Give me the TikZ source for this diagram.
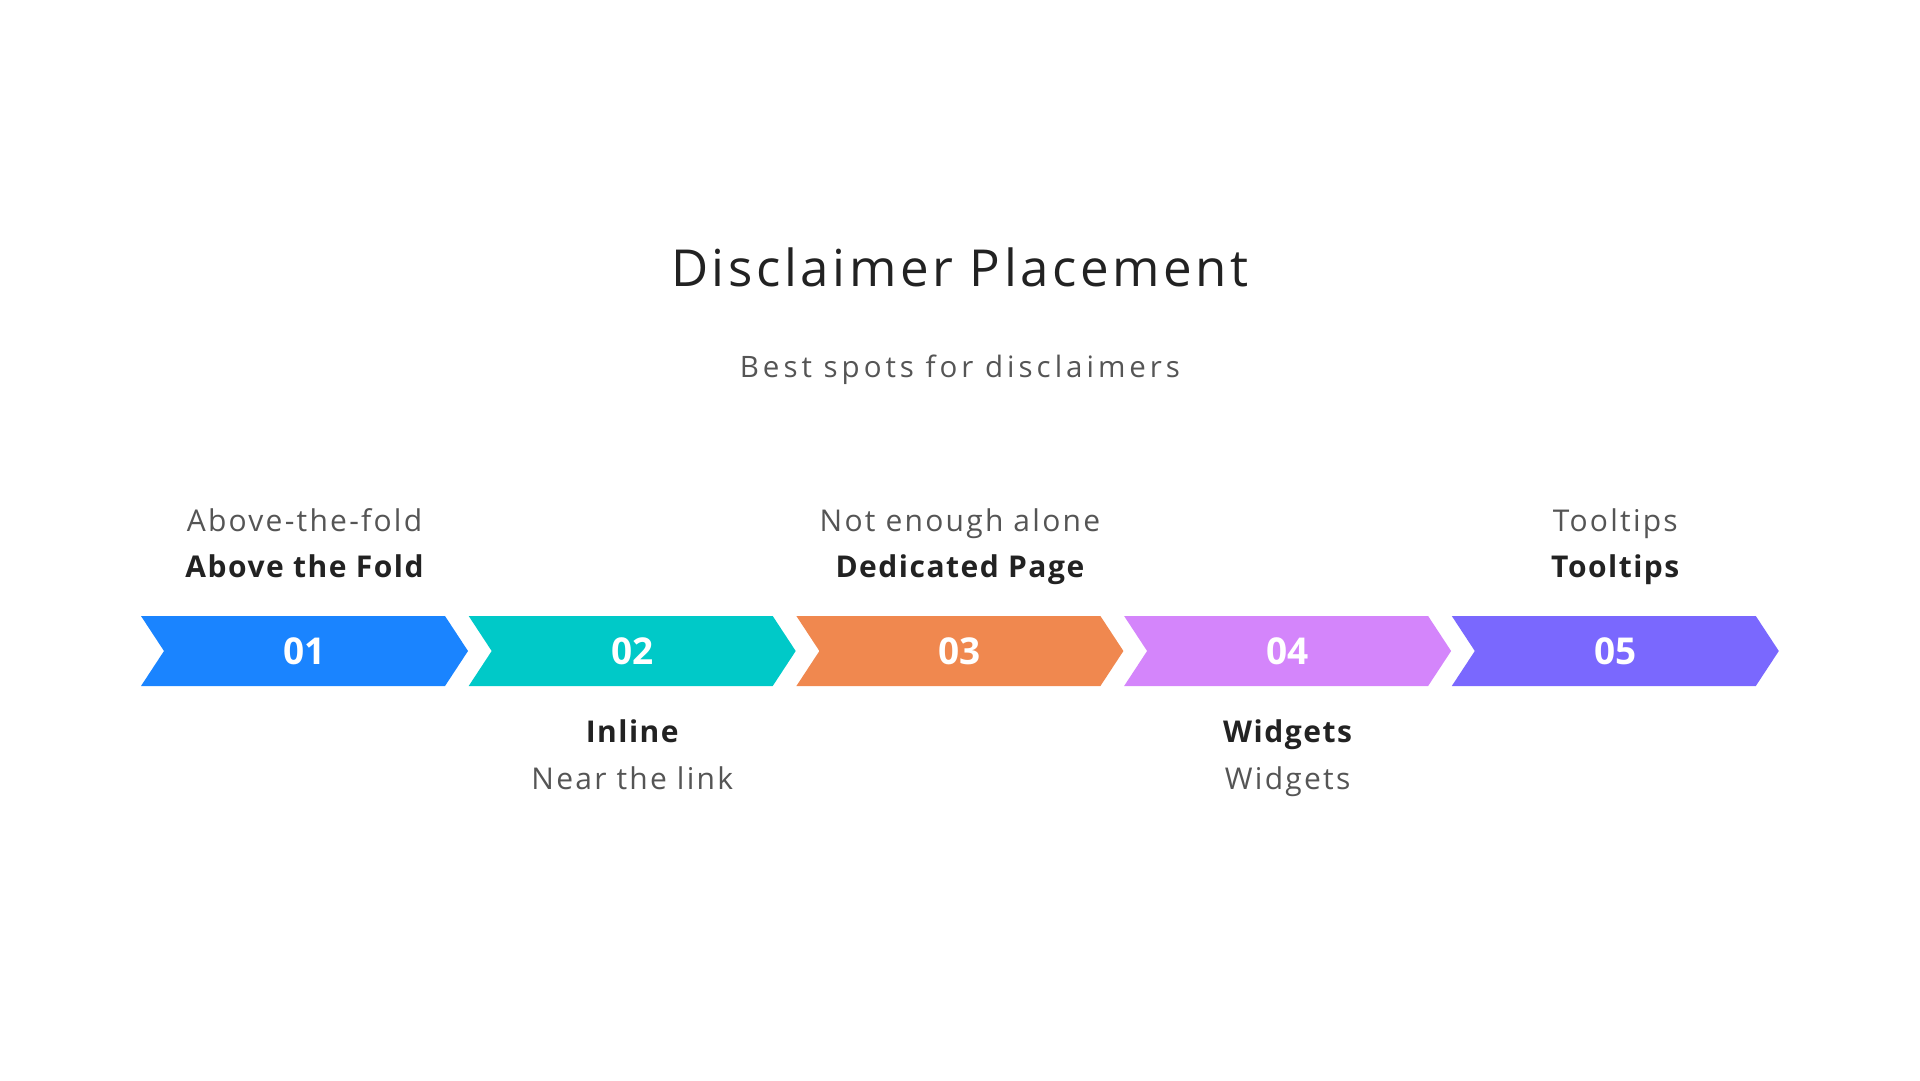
\documentclass[tikz,border=0pt]{standalone}
\usepackage{fontspec}
\setmainfont{Open Sans}
\usepackage{xcolor}
\usepackage{tikz}
\usetikzlibrary{positioning,shapes.symbols}

\definecolor{cblue}{HTML}{1A84FF}
\definecolor{cteal}{HTML}{00C9C8}
\definecolor{corange}{HTML}{F0884F}
\definecolor{cpink}{HTML}{D485FB}
\definecolor{cviolet}{HTML}{7A68FE}
\definecolor{tdark}{HTML}{222222}
\definecolor{tgray}{HTML}{555555}

\begin{document}
\begin{tikzpicture}[
  x=1pt, y=-1pt,
  chev/.style={shape=signal, signal to=east, signal from=west,
               signal pointer angle=113.4, minimum width=327pt,
               minimum height=70pt, inner sep=0pt, text=white,
               font=\fontsize{37}{40}\selectfont\bfseries},
  desc/.style={anchor=base, text=tgray,
               font=\fontsize{30}{34}\selectfont\addfontfeature{LetterSpace=7.5}},
  head/.style={anchor=base, text=tdark,
               font=\fontsize{30}{34}\selectfont\bfseries\addfontfeature{LetterSpace=5}},
]
  \useasboundingbox (0,0) rectangle (1920,1080);

  \node[anchor=base, text=tdark,
        font=\fontsize{51}{56}\selectfont\addfontfeature{LetterSpace=7}] (title)
    at (960,286) {Disclaimer Placement};
  \node[anchor=base, text=tgray,
        font=\fontsize{29.5}{34}\selectfont\addfontfeature{LetterSpace=13.5}] (subtitle)
    at (960,377) {Best spots for disclaimers};

  % chevrons
  \node[chev, fill=cblue] (s1) at (304.5,651) {01};
  \node[chev, fill=cteal] (s2) at (632.2,651) {02};
  \node[chev, fill=corange] (s3) at (959.9,651) {03};
  \node[chev, fill=cpink] (s4) at (1287.6,651) {04};
  \node[chev, fill=cviolet] (s5) at (1615.3,651) {05};

  % labels above
  \node[desc] (d1) at (s1 |- 0,531) {Above-the-fold};
  \node[head] (h1) at (s1 |- 0,577) {Above the Fold};
  \node[desc] (d3) at (s3 |- 0,531) {Not enough alone};
  \node[head] (h3) at (s3 |- 0,577) {Dedicated Page};
  \node[desc] (d5) at (s5 |- 0,531) {Tooltips};
  \node[head] (h5) at (s5 |- 0,577) {Tooltips};

  % labels below
  \node[head] (h2) at (s2 |- 0,742) {Inline};
  \node[desc] (d2) at (s2 |- 0,789) {Near the link};
  \node[head] (h4) at (s4 |- 0,742) {Widgets};
  \node[desc] (d4) at (s4 |- 0,789) {Widgets};
\end{tikzpicture}
\end{document}
